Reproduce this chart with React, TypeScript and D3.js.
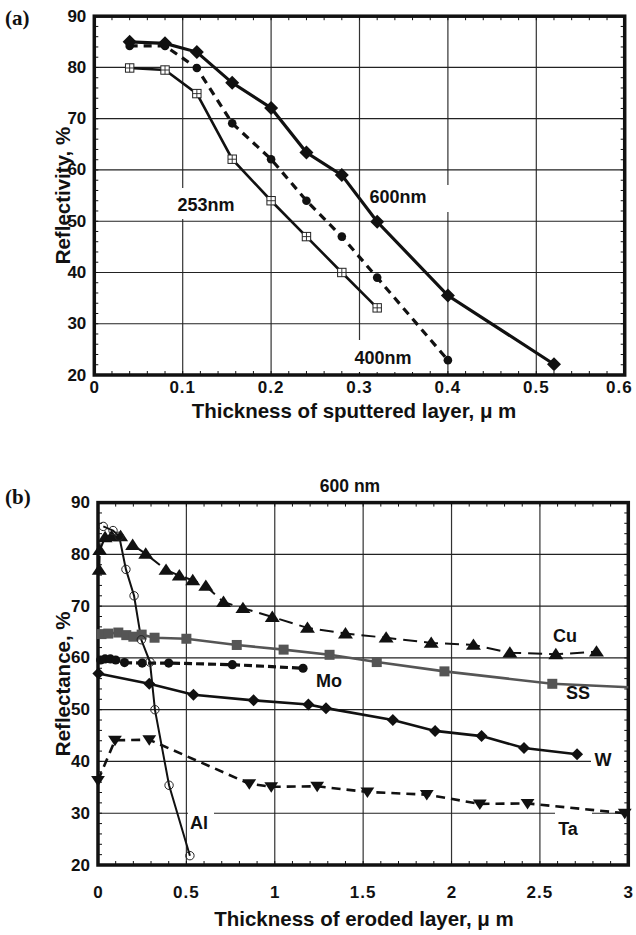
import React from "react";
import * as d3 from "d3";

// ---------- Panel (a) data ----------
const aXTicks = [0, 0.1, 0.2, 0.3, 0.4, 0.5, 0.6];
const aXTickLabels = ["0", "0.1", "0.2", "0.3", "0.4", "0.5", "0.6"];
const aYTicks = [20, 30, 40, 50, 60, 70, 80, 90];

const a600X = [0.04, 0.08, 0.116, 0.156, 0.2, 0.24, 0.28, 0.32, 0.4, 0.52];
const a600Y = [85, 84.7, 83, 77, 72.1, 63.4, 59, 49.9, 35.5, 22.1];
const a400X = [0.04, 0.08, 0.116, 0.156, 0.2, 0.24, 0.28, 0.32, 0.4];
const a400Y = [84.2, 84.2, 79.9, 69.1, 62.1, 54, 47, 39, 22.9];
const a253X = [0.04, 0.08, 0.116, 0.156, 0.2, 0.24, 0.28, 0.32];
const a253Y = [79.9, 79.5, 74.9, 62.1, 54, 47, 40, 33.1];

// ---------- Panel (b) data ----------
const bXTicks = [0, 0.5, 1, 1.5, 2, 2.5, 3];
const bXTickLabels = ["0", "0.5", "1", "1.5", "2", "2.5", "3"];
const bYTicks = [20, 30, 40, 50, 60, 70, 80, 90];

const cuX = [0.007, 0.01, 0.04, 0.077, 0.128, 0.196, 0.27, 0.385, 0.46, 0.536, 0.61, 0.71, 0.82, 0.986, 1.185, 1.4, 1.63, 1.885, 2.124, 2.33, 2.59, 2.82];
const cuY = [77, 80.8, 83.3, 83.5, 83.5, 81.8, 80.1, 77, 75.9, 75, 73.9, 70.8, 69.6, 67.9, 65.8, 64.7, 63.9, 62.9, 62.5, 61, 60.7, 61.2];
const ssX = [0.02, 0.058, 0.115, 0.16, 0.2, 0.247, 0.32, 0.5, 0.785, 1.05, 1.31, 1.577, 1.96, 2.57, 3.1];
const ssY = [64.6, 64.7, 64.9, 64.4, 64.1, 64.5, 63.9, 63.7, 62.5, 61.6, 60.6, 59.2, 57.4, 55, 54.2];
const moX = [0.015, 0.04, 0.07, 0.1, 0.15, 0.25, 0.4, 0.76, 1.16];
const moY = [59.6, 59.8, 59.8, 59.6, 59.1, 59.0, 59.0, 58.7, 58.0];
const wX = [0.002, 0.29, 0.54, 0.88, 1.19, 1.29, 1.668, 1.907, 2.17, 2.41, 2.71];
const wY = [57, 55, 52.9, 51.8, 51, 50.3, 48, 45.9, 44.9, 42.6, 41.4];
const taX = [0.0, 0.096, 0.29, 0.856, 0.98, 1.24, 1.524, 1.86, 2.16, 2.43, 2.98];
const taY = [36.3, 44.1, 44.2, 35.7, 35.1, 35.2, 34.1, 33.6, 31.8, 31.9, 30];
const alX = [0.03, 0.085, 0.12, 0.158, 0.204, 0.245, 0.294, 0.322, 0.402, 0.52];
const alY = [85.4, 84.6, 83.5, 77.1, 72, 63.5, 59.2, 50, 35.4, 21.8];

const FONT = "'Liberation Sans', Arial, Helvetica, sans-serif";
const W = 636;

const zip = (xs: number[], ys: number[]) => xs.map((x, i) => [x, ys[i]] as [number, number]);

type Sc = d3.ScaleLinear<number, number>;

function Frame(props: {
  x: Sc; y: Sc; xTicks: number[]; xLabels: string[]; yTicks: number[];
  xMinor: number; yMinor: number; tickY: number;
}) {
  const { x, y, xTicks, xLabels, yTicks, xMinor, yMinor, tickY } = props;
  const [x0, x1] = x.range();
  const [y0, y1] = y.range(); // y0 bottom, y1 top
  const xd = x.domain();
  const yd = y.domain();
  const xm: number[] = [];
  for (let v = xd[0]; v <= xd[1] + 1e-9; v += xMinor) xm.push(v);
  const ym: number[] = [];
  for (let v = yd[0]; v <= yd[1] + 1e-9; v += yMinor) ym.push(v);
  const tl = 4;
  return (
    <g>
      {xTicks.slice(1, -1).map((t) => (
        <line key={"gx" + t} x1={x(t)} x2={x(t)} y1={y0} y2={y1} stroke="#333" strokeWidth={1.2} />
      ))}
      {yTicks.slice(1, -1).map((t) => (
        <line key={"gy" + t} x1={x0} x2={x1} y1={y(t)} y2={y(t)} stroke="#222" strokeWidth={1.2} />
      ))}
      {xm.map((v, i) => (
        <g key={"mx" + i}>
          <line x1={x(v)} x2={x(v)} y1={y0} y2={y0 - tl} stroke="#111" strokeWidth={1} />
          <line x1={x(v)} x2={x(v)} y1={y1} y2={y1 + tl} stroke="#111" strokeWidth={1} />
        </g>
      ))}
      {ym.map((v, i) => (
        <g key={"my" + i}>
          <line x1={x0} x2={x0 + tl} y1={y(v)} y2={y(v)} stroke="#111" strokeWidth={1} />
          <line x1={x1} x2={x1 - tl} y1={y(v)} y2={y(v)} stroke="#111" strokeWidth={1} />
        </g>
      ))}
      <rect x={x0} y={y1} width={x1 - x0} height={y0 - y1} fill="none" stroke="#111" strokeWidth={3.5} />
      {yTicks.map((t) => (
        <text key={"ly" + t} x={x0 - 8} y={y(t)} textAnchor="end" dominantBaseline="central"
          fontFamily={FONT} fontWeight="bold" fontSize={17} fill="#111">{t}</text>
      ))}
      {xTicks.map((t, i) => {
        const lab = xLabels[i];
        const half = lab.length * 5.2;
        const cx = Math.min(x(t), W - half - 1);
        return (
          <text key={"lx" + t} x={cx} y={tickY} textAnchor="middle" dominantBaseline="central"
            fontFamily={FONT} fontWeight="bold" fontSize={17} fill="#111" letterSpacing={lab.length > 1 ? 1 : 0}>{lab}</text>
        );
      })}
    </g>
  );
}

function Label(props: { text: string; cx: number; cy: number; box: [number, number, number, number] }) {
  const { text, cx, cy, box } = props;
  return (
    <g>
      <rect x={box[0]} y={box[1]} width={box[2] - box[0]} height={box[3] - box[1]} fill="#fff" />
      <text x={cx} y={cy} textAnchor="middle" dominantBaseline="central" fontFamily={FONT}
        fontWeight="bold" fontSize={18} fill="#111">{text}</text>
    </g>
  );
}

const diamond = (cx: number, cy: number, s: number) => `M${cx},${cy - s}L${cx + s},${cy}L${cx},${cy + s}L${cx - s},${cy}Z`;
const triUp = (cx: number, cy: number, s: number) => `M${cx},${cy - s}L${cx + s * 1.15},${cy + s * 0.75}L${cx - s * 1.15},${cy + s * 0.75}Z`;
const triDown = (cx: number, cy: number, s: number) => `M${cx},${cy + s}L${cx + s * 1.15},${cy - s * 0.75}L${cx - s * 1.15},${cy - s * 0.75}Z`;

export default function App() {
  // Panel (a) scales
  const xA = d3.scaleLinear().domain([0, 0.6]).range([94.3, 624.7]);
  const yA = d3.scaleLinear().domain([20, 90]).range([375, 16.2]);
  // Panel (b) scales
  const xB = d3.scaleLinear().domain([0, 3]).range([98, 628.3]);
  const yB = d3.scaleLinear().domain([20, 90]).range([865, 502.6]);

  const lineA = d3.line<[number, number]>().x((d) => xA(d[0])).y((d) => yA(d[1]));
  const lineB = d3.line<[number, number]>().x((d) => xB(d[0])).y((d) => yB(d[1]));

  const s600 = zip(a600X, a600Y);
  const s400 = zip(a400X, a400Y);
  const s253 = zip(a253X, a253Y);
  const sCu = zip(cuX, cuY);
  const sSS = zip(ssX, ssY);
  const sMo = zip(moX, moY);
  const sW = zip(wX, wY);
  const sTa = zip(taX, taY);
  const sAl = zip(alX, alY);
  const inB = (d: [number, number]) => d[0] <= 3;

  return (
    <svg width={636} height={935} style={{ position: "absolute", left: 0, top: 0, background: "#fff" }}>
      <defs>
        <clipPath id="clipB">
          <rect x={98} y={502.6} width={530.3} height={362.4} />
        </clipPath>
      </defs>
      <rect x={0} y={0} width={636} height={935} fill="#fff" />

      {/* ---------------- Panel (a) ---------------- */}
      <text x={5} y={25} fontFamily="'Liberation Serif', 'Times New Roman', serif" fontWeight="bold" fontSize={21} fill="#111">(a)</text>
      <Frame x={xA} y={yA} xTicks={aXTicks} xLabels={aXTickLabels} yTicks={aYTicks} xMinor={0.02} yMinor={2} tickY={387} />
      <text transform={`translate(62,${(375 + 16.2) / 2}) rotate(-90)`} textAnchor="middle" dominantBaseline="central"
        fontFamily={FONT} fontWeight="bold" fontSize={20.5} fill="#111">Reflectivity, %</text>
      <text x={354} y={410} textAnchor="middle" dominantBaseline="central" fontFamily={FONT} fontWeight="bold"
        fontSize={20.5} fill="#111">Thickness of sputtered layer,  μ m</text>

      <Label text="253nm" cx={206} cy={205} box={[173, 188, 240, 219]} />
      <Label text="600nm" cx={398} cy={197} box={[366, 185, 452, 212]} />
      <Label text="400nm" cx={383} cy={358} box={[350, 340, 416, 372]} />

      <path d={lineA(s253) || ""} fill="none" stroke="#111" strokeWidth={2.6} />
      <path d={lineA(s400) || ""} fill="none" stroke="#111" strokeWidth={3.2} strokeDasharray="8,6" />
      <path d={lineA(s600) || ""} fill="none" stroke="#111" strokeWidth={3.2} />
      {s253.map((d, i) => {
        const cx = xA(d[0]), cy = yA(d[1]), h = 4.2;
        return (
          <g key={"m253" + i}>
            <rect x={cx - h} y={cy - h} width={2 * h} height={2 * h} fill="#fff" stroke="#222" strokeWidth={1} />
            <line x1={cx} x2={cx} y1={cy - h} y2={cy + h} stroke="#222" strokeWidth={0.9} />
            <line x1={cx - h} x2={cx + h} y1={cy} y2={cy} stroke="#222" strokeWidth={0.9} />
          </g>
        );
      })}
      {s400.map((d, i) => (
        <circle key={"m400" + i} cx={xA(d[0])} cy={yA(d[1])} r={4.3} fill="#111" />
      ))}
      {s600.map((d, i) => (
        <path key={"m600" + i} d={diamond(xA(d[0]), yA(d[1]), 7)} fill="#111" />
      ))}

      {/* ---------------- Panel (b) ---------------- */}
      <text x={5} y={504} fontFamily="'Liberation Serif', 'Times New Roman', serif" fontWeight="bold" fontSize={21} fill="#111">(b)</text>
      <text x={350} y={486} textAnchor="middle" dominantBaseline="central" fontFamily={FONT} fontWeight="bold"
        fontSize={17.5} fill="#111">600 nm</text>
      <Frame x={xB} y={yB} xTicks={bXTicks} xLabels={bXTickLabels} yTicks={bYTicks} xMinor={0.1} yMinor={2} tickY={892} />
      <text transform={`translate(62,${(865 + 502.6) / 2}) rotate(-90)`} textAnchor="middle" dominantBaseline="central"
        fontFamily={FONT} fontWeight="bold" fontSize={20.5} fill="#111">Reflectance, %</text>
      <text x={364} y={918} textAnchor="middle" dominantBaseline="central" fontFamily={FONT} fontWeight="bold"
        fontSize={20.5} fill="#111">Thickness of eroded layer,   μ m</text>

      <Label text="Cu" cx={565} cy={636} box={[550, 624, 582, 647]} />
      <Label text="SS" cx={578} cy={693} box={[560, 679, 603, 707]} />
      <Label text="Mo" cx={329} cy={681} box={[312, 670, 347, 693]} />
      <Label text="W" cx={603} cy={760} box={[591, 746, 624, 774]} />
      <Label text="Ta" cx={568} cy={829} box={[555, 812, 592, 847]} />
      <Label text="Al" cx={199} cy={823} box={[188, 804, 214, 843]} />

      <g clipPath="url(#clipB)">
        <path d={lineB(sSS) || ""} fill="none" stroke="#555" strokeWidth={2.6} />
      </g>
      <path d={lineB(sCu) || ""} fill="none" stroke="#111" strokeWidth={2} strokeDasharray="14,7" />
      <path d={lineB(sMo) || ""} fill="none" stroke="#111" strokeWidth={3.2} strokeDasharray="8,4" />
      <path d={lineB(sW) || ""} fill="none" stroke="#111" strokeWidth={2.6} />
      <path d={lineB(sTa) || ""} fill="none" stroke="#111" strokeWidth={2.6} strokeDasharray="9,6" />
      <path d={lineB(sAl) || ""} fill="none" stroke="#111" strokeWidth={2} />

      {sSS.filter(inB).map((d, i) => (
        <rect key={"mss" + i} x={xB(d[0]) - 5} y={yB(d[1]) - 5} width={10} height={10} fill="#555" />
      ))}
      {sCu.map((d, i) => (
        <path key={"mcu" + i} d={triUp(xB(d[0]), yB(d[1]), 6.5)} fill="#111" />
      ))}
      {sMo.map((d, i) => (
        <circle key={"mmo" + i} cx={xB(d[0])} cy={yB(d[1])} r={4.6} fill="#111" />
      ))}
      {sW.map((d, i) => (
        <path key={"mw" + i} d={diamond(xB(d[0]), yB(d[1]), 6)} fill="#111" />
      ))}
      {sTa.map((d, i) => (
        <path key={"mta" + i} d={triDown(xB(d[0]), yB(d[1]), 6)} fill="#111" />
      ))}
      {sAl.map((d, i) => (
        <circle key={"mal" + i} cx={xB(d[0])} cy={yB(d[1])} r={4.2} fill="none" stroke="#222" strokeWidth={1} />
      ))}
    </svg>
  );
}
